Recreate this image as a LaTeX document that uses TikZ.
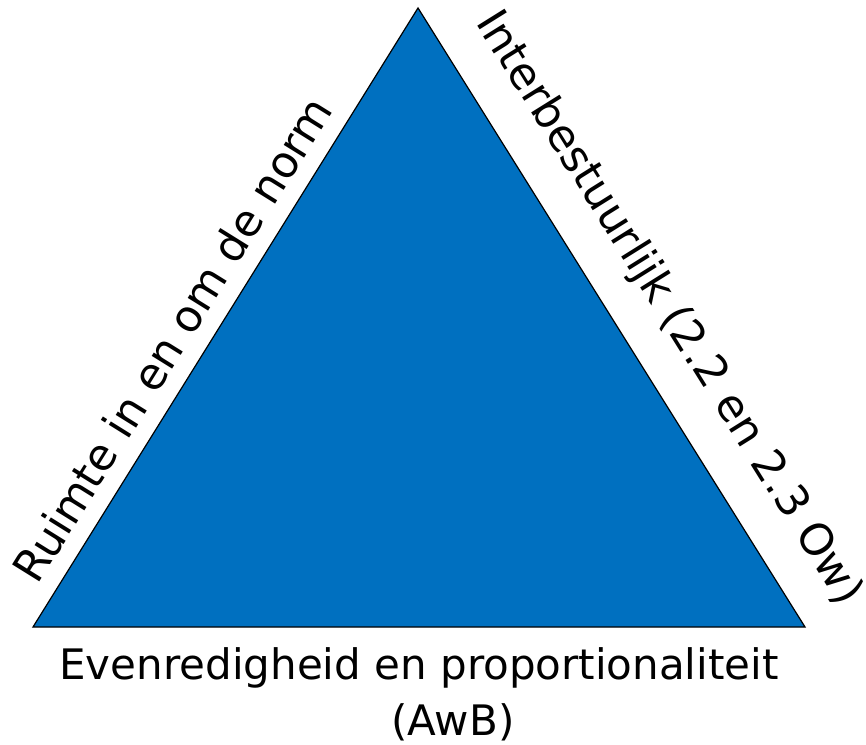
\documentclass[tikz,border=0pt]{standalone}
\usepackage{fontspec}
\setmainfont{DejaVu Sans}
\usetikzlibrary{positioning}
\definecolor{triblue}{HTML}{0070C0}

\begin{document}
\begin{tikzpicture}[x=1pt, y=1pt,
      label text/.style={font=\fontsize{42}{50}\selectfont, inner sep=0pt, anchor=base},
      side text/.style={label text, font=\fontsize{44}{52}\selectfont},
      left label/.style={side text, rotate=58.1},
      right label/.style={side text, rotate=-58},
      ]
        \useasboundingbox (0,0) rectangle (866,744);

        \coordinate (top)   at (418,736);
        \coordinate (left)  at (33,117);
        \coordinate (right) at (805,117);

        \draw[fill=triblue, line width=1.2pt, line join=miter] (left) -- (top) -- (right) -- cycle;

        \node[left label]  (norm) at (186,396) {Ruimte in en om de norm};
        \node[right label] (ow)   at (658,429) {Interbestuurlijk (2.2 en 2.3 Ow)};

        \node[label text] (prop) at (419,65) {Evenredigheid en proportionaliteit};
        \node[label text] (awb)  at (453,9)  {(AwB)};

\end{tikzpicture}
\end{document}
